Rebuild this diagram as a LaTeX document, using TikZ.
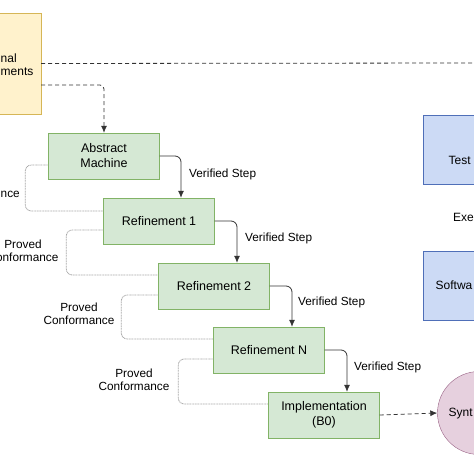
\documentclass[tikz,border=0pt]{standalone}
\usepackage{fontspec}
\setmainfont{Liberation Sans}
\usetikzlibrary{arrows.meta}

\definecolor{stepfill}{HTML}{D5E8D4}
\definecolor{stepline}{HTML}{82B366}
\definecolor{reqfill}{HTML}{FFF2CC}
\definecolor{reqline}{HTML}{D6B656}
\definecolor{testfill}{HTML}{CCDAF5}
\definecolor{testline}{HTML}{4F6FB8}
\definecolor{synfill}{HTML}{E6D0DE}
\definecolor{synline}{HTML}{996185}
\definecolor{arrowgray}{HTML}{333333}
\definecolor{confgray}{HTML}{A8A8A8}

\begin{document}
\begin{tikzpicture}[x=1pt, y=-1pt, >={Latex[length=7pt,width=6pt]},
	box/.style={draw=stepline, fill=stepfill, minimum width=111pt, minimum height=46pt, align=center, font=\fontsize{12.5}{15}\selectfont},
	verified/.style={->, draw=arrowgray, thick, rounded corners=6pt},
	conf/.style={draw=confgray, dash pattern=on 1pt off 0.6pt, thick, rounded corners=6pt},
	flow/.style={draw=arrowgray, dash pattern=on 4pt off 3pt, thick, rounded corners=4pt},
	lbl/.style={font=\fontsize{11.8}{13.5}\selectfont, align=center, inner sep=0pt},
	edge/.style={font=\fontsize{12}{15}\selectfont, inner sep=0pt}]
	\useasboundingbox[fill=white] (0, 0) rectangle (474, 474);

	\node[draw=reqline, fill=reqfill, minimum width=112pt, minimum height=101pt] (req) at (-15, 63.5) {};
	\node[edge, anchor=west] (reqa) at (0.5, 58) {nal};
	\node[edge, anchor=west] (reqb) at (0.5, 72) {ments};

	\node[box] (am) at (104, 156) {Abstract\\Machine};
	\node[box] (r1) at (159, 221) {Refinement 1};
	\node[box] (r2) at (214, 286) {Refinement 2};
	\node[box] (rn) at (269, 350) {Refinement N};
	\node[box] (impl) at (324, 415) {Implementation\\(B0)};

	\node[draw=testline, fill=testfill, minimum width=112pt, minimum height=69pt] (test) at (479, 149.5) {};
	\node[edge, anchor=west] (testt) at (448.5, 160) {Test};
	\node[edge, anchor=west] (exe) at (453, 217) {Exe};
	\node[draw=testline, fill=testfill, minimum width=112pt, minimum height=69pt] (soft) at (479, 285.5) {};
	\node[edge, anchor=west] (softt) at (435.5, 285) {Softwa};
	\node[draw=synline, fill=synfill, circle, minimum size=83pt] (syn) at (479, 413) {};
	\node[edge, anchor=west] (synt) at (448.5, 414) {Synt};

	\coordinate (out) at (474, 63);
	\draw[flow] (req.east) -- (out);
	\draw[flow, ->] ([yshift=-21.5pt]req.east) -| (am.north);
	\draw[flow, ->] (impl.east) -- (syn.west);

	\draw[verified] (am.east) -| ([xshift=22pt]r1.north);
	\draw[verified] (r1.east) -| ([xshift=23pt]r2.north);
	\draw[verified] (r2.east) -| ([xshift=23pt]rn.north);
	\draw[verified] (rn.east) -| ([xshift=23pt]impl.north);
	\node[lbl, anchor=west] (v1) at (189, 174) {Verified Step};
	\node[lbl, anchor=west] (v2) at (245, 238) {Verified Step};
	\node[lbl, anchor=west] (v3) at (298, 302) {Verified Step};
	\node[lbl, anchor=west] (v4) at (354, 367) {Verified Step};

	\draw[conf] ([yshift=-9pt]am.west) -- ++(-23, 0) |- ([yshift=10pt]r1.west);
	\draw[conf] ([yshift=-9pt]r1.west) -- ++(-37, 0) |- ([yshift=11pt]r2.west);
	\draw[conf] ([yshift=-9pt]r2.west) -- ++(-37, 0) |- ([yshift=11pt]rn.west);
	\draw[conf] ([yshift=-9pt]rn.west) -- ++(-35, 0) |- ([yshift=11pt]impl.west);
	\node[lbl, anchor=west] (c1) at (0.5, 194) {nce};
	\node[lbl] (c2) at (23, 251) {Proved\\Conformance};
	\node[lbl] (c3) at (79, 314) {Proved\\Conformance};
	\node[lbl] (c4) at (134, 380) {Proved\\Conformance};
\end{tikzpicture}
\end{document}
